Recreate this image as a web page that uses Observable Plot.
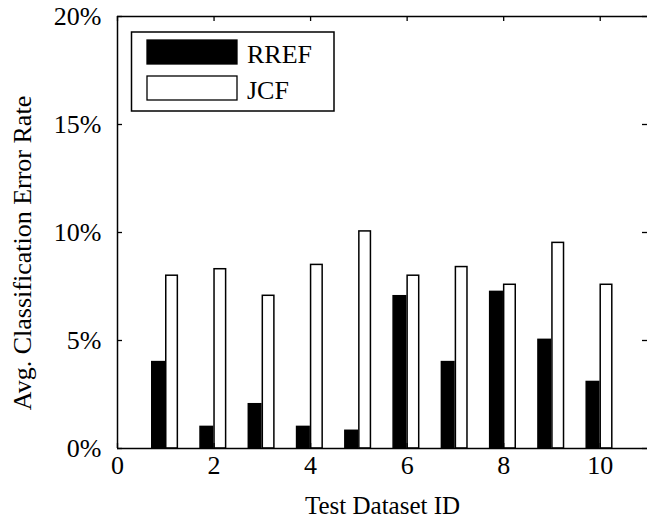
<!DOCTYPE html>
<html><head><meta charset="utf-8">
<script src="https://cdn.jsdelivr.net/npm/d3@7"></script>
<script src="https://cdn.jsdelivr.net/npm/@observablehq/plot@0.6"></script>
<style>body{margin:0;background:#fff} #chart{position:relative;width:647px;height:522px}</style>
</head><body><div id="chart"></div>
<script>
const datasetIds = [1, 2, 3, 4, 5, 6, 7, 8, 9, 10];
const rrefValues = [4.0, 1.0, 2.05, 1.0, 0.82, 7.05, 4.0, 7.25, 5.03, 3.08];
const jcfValues = [8.0, 8.3, 7.07, 8.5, 10.05, 8.0, 8.4, 7.58, 9.52, 7.58];
const seriesNames = ["RREF", "JCF"];
const seriesFills = ["black", "white"];
const xTicks = [0, 2, 4, 6, 8, 10];
const yTicks = [0, 5, 10, 15, 20];
const yTickLabels = ["0%", "5%", "10%", "15%", "20%"];
const xLabel = "Test Dataset ID";
const yLabel = "Avg. Classification Error Rate";

const rows = datasetIds.flatMap((id, i) => [
  {id, series: "RREF", value: rrefValues[i]},
  {id, series: "JCF", value: jcfValues[i]}
]);
const offsets = {RREF: [-0.28, -0.02], JCF: [0.01, 0.25]};

const font = "Liberation Serif, Times New Roman, serif";
const plot = Plot.plot({
  width: 647, height: 522,
  marginLeft: 117, marginRight: 0, marginTop: 16, marginBottom: 74,
  style: {fontFamily: font, fontSize: "26px", color: "black", background: "white"},
  x: {domain: [0, 11], range: [117, 648]},
  y: {domain: [0, 20]},
  marks: [
    Plot.rect(rows, {
      x1: d => d.id + offsets[d.series][0],
      x2: d => d.id + offsets[d.series][1],
      y1: 0, y2: "value",
      fill: d => seriesFills[seriesNames.indexOf(d.series)],
      stroke: "black", strokeWidth: 1.5
    }),
    Plot.tickX(xTicks, {x: d => d, insetTop: 427, stroke: "black", strokeWidth: 1.3}),
    Plot.tickX(xTicks, {x: d => d, insetBottom: 427, stroke: "black", strokeWidth: 1.3}),
    Plot.tickY(yTicks, {y: d => d, insetRight: 525, stroke: "black", strokeWidth: 1.3}),
    Plot.tickY(yTicks, {y: d => d, insetLeft: 525, stroke: "black", strokeWidth: 1.3}),
    Plot.ruleY([0, 20], {stroke: "black", strokeWidth: 1.5}),
    Plot.ruleX([0, 11], {stroke: "black", strokeWidth: 1.5}),
    Plot.axisX(xTicks, {anchor: "bottom", tickSize: 0, tickPadding: 7, fontSize: 26, label: null}),
    Plot.axisY(yTicks, {anchor: "left", tickSize: 0, tickPadding: 16, fontSize: 26,
      tickFormat: (d) => yTickLabels[yTicks.indexOf(d)], label: null}),
    Plot.text([xLabel], {text: d => d, frameAnchor: "bottom", dy: 57, lineAnchor: "middle",
      fontSize: 25, fill: "black"})
  ]
});
document.getElementById("chart").appendChild(plot);

const svg = d3.select(plot);
// y-axis title
svg.append("text")
  .attr("transform", "translate(22,253) rotate(-90)")
  .attr("text-anchor", "middle").attr("dominant-baseline", "central")
  .attr("font-family", font).attr("font-size", 26).attr("fill", "black")
  .text(yLabel);

// legend
const lg = svg.append("g").attr("font-family", font).attr("font-size", 26).attr("text-anchor", "start");
lg.append("rect").attr("x", 131.5).attr("y", 32).attr("width", 202.5).attr("height", 79)
  .attr("fill", "white").attr("stroke", "black").attr("stroke-width", 1.5);
seriesNames.forEach((name, i) => {
  const y0 = 40 + i * 36;
  lg.append("rect").attr("x", 147).attr("y", y0).attr("width", 90).attr("height", 24)
    .attr("fill", seriesFills[i]).attr("stroke", "black").attr("stroke-width", 1.3);
  lg.append("text").attr("x", 247).attr("y", y0 + 23).attr("fill", "black").text(name);
});
</script></body></html>
